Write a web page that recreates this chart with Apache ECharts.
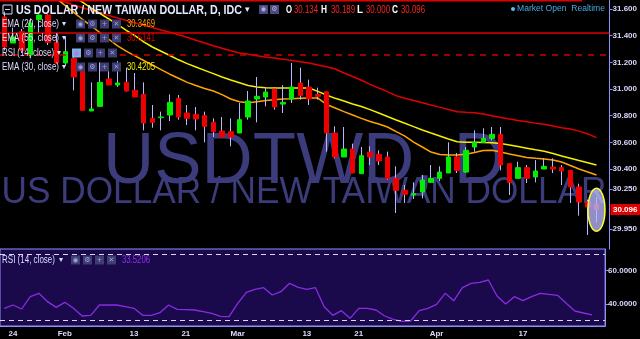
<!DOCTYPE html>
<html><head><meta charset="utf-8">
<script src="https://cdn.jsdelivr.net/npm/echarts/dist/echarts.min.js"></script>
<style>html,body{margin:0;padding:0;background:#000;overflow:hidden}#c{width:640px;height:339px}</style>
</head><body><div id="c"></div>
<script>
const dates = ['2017-01-23','2017-01-24','2017-01-25','2017-01-26','2017-01-27','2017-01-30','2017-01-31',
'2017-02-01','2017-02-02','2017-02-03','2017-02-06','2017-02-07','2017-02-08','2017-02-09','2017-02-10','2017-02-13','2017-02-14','2017-02-15','2017-02-16','2017-02-17','2017-02-20','2017-02-21','2017-02-22','2017-02-23','2017-02-24','2017-02-27','2017-02-28',
'2017-03-01','2017-03-02','2017-03-03','2017-03-06','2017-03-07','2017-03-08','2017-03-09','2017-03-10','2017-03-13','2017-03-14','2017-03-15','2017-03-16','2017-03-17','2017-03-20','2017-03-21','2017-03-22','2017-03-23','2017-03-24','2017-03-27','2017-03-28','2017-03-29','2017-03-30','2017-03-31',
'2017-04-03','2017-04-04','2017-04-05','2017-04-06','2017-04-07','2017-04-10','2017-04-11','2017-04-12','2017-04-13','2017-04-14','2017-04-17','2017-04-18','2017-04-19','2017-04-20','2017-04-21','2017-04-24','2017-04-25','2017-04-26','2017-04-27'];
const opens = [31.54,31.345,31.43,31.255,31.52,31.555,31.35,31.195,31.23,31.16,30.835,30.87,31.075,31.03,31.05,30.99,30.96,30.78,30.785,30.805,30.93,30.82,30.81,30.80,30.75,30.685,30.68,30.67,30.79,30.925,30.94,31.0,30.887,30.925,31.045,31.015,30.96,30.98,30.67,30.49,30.55,30.365,30.527,30.51,30.49,30.33,30.24,30.205,30.227,30.3,30.33,30.37,30.49,30.377,30.565,30.6,30.63,30.66,30.44,30.33,30.41,30.34,30.4,30.415,30.41,30.39,30.265,30.153,30.134];
const highs = [31.58,31.46,31.45,31.53,31.56,31.56,31.42,31.39,31.25,31.18,31.05,31.2,31.165,31.21,31.16,31.12,31.05,30.88,30.83,30.96,30.955,30.88,30.865,30.83,30.78,30.79,30.78,30.895,30.985,31.09,31.015,31.015,31.03,31.195,31.16,31.07,31.01,30.98,30.72,30.715,30.59,30.565,30.57,30.54,30.53,30.42,30.28,30.3,30.355,30.43,30.42,30.6,30.52,30.565,30.69,30.705,30.715,30.715,30.44,30.455,30.43,30.467,30.48,30.48,30.43,30.39,30.29,30.17,30.189];
const lows = [31.29,31.345,31.27,31.23,31.42,31.33,31.19,31.18,30.99,30.84,30.835,30.865,31.03,31.015,30.98,30.94,30.69,30.71,30.69,30.76,30.77,30.73,30.69,30.6,30.64,30.64,30.57,30.67,30.77,30.75,30.87,30.845,30.82,30.895,30.92,30.88,30.92,30.53,30.48,30.49,30.37,30.365,30.43,30.43,30.32,30.07,30.145,30.175,30.18,30.3,30.31,30.37,30.37,30.37,30.53,30.595,30.615,30.39,30.205,30.33,30.295,30.3,30.4,30.37,30.28,30.145,30.05,29.905,30.0];
const closes = [31.315,31.39,31.29,31.495,31.555,31.35,31.195,31.28,31.09,30.84,30.85,31.05,31.03,31.045,30.985,30.94,30.745,30.75,30.79,30.90,30.79,30.78,30.775,30.72,30.68,30.64,30.64,30.77,30.91,30.945,30.977,30.865,30.9,31.015,30.95,30.925,30.945,30.67,30.49,30.55,30.37,30.5,30.49,30.46,30.33,30.24,30.21,30.215,30.317,30.33,30.377,30.49,30.39,30.54,30.6,30.63,30.66,30.43,30.3,30.41,30.33,30.385,30.42,30.4,30.385,30.265,30.153,30.115,30.096];
const ema20 = [31.97,31.921,31.875,31.828,31.782,31.73,31.678,31.625,31.573,31.521,31.472,31.422,31.373,31.324,31.284,31.249,31.214,31.18,31.145,31.111,31.081,31.05,31.026,31.004,30.985,30.958,30.925,30.905,30.896,30.905,30.914,30.92,30.925,30.927,30.93,30.932,30.932,30.884,30.857,30.83,30.805,30.78,30.756,30.737,30.715,30.68,30.646,30.602,30.565,30.527,30.509,30.505,30.505,30.51,30.524,30.539,30.541,30.527,30.512,30.5,30.486,30.48,30.475,30.468,30.452,30.426,30.4,30.377,30.355];
const ema30 = [32.035,31.99,31.945,31.9,31.86,31.82,31.776,31.733,31.69,31.649,31.607,31.566,31.525,31.484,31.44,31.4,31.354,31.315,31.283,31.251,31.219,31.19,31.165,31.14,31.115,31.09,31.068,31.047,31.026,31.015,31.009,31.007,31.007,31.007,31.007,31.007,30.982,30.955,30.93,30.91,30.888,30.869,30.845,30.82,30.794,30.768,30.743,30.718,30.693,30.67,30.648,30.625,30.605,30.6,30.6,30.598,30.597,30.591,30.58,30.568,30.556,30.544,30.533,30.516,30.497,30.48,30.463,30.447,30.43];
const ema55 = [31.788,31.768,31.748,31.728,31.709,31.689,31.67,31.65,31.63,31.61,31.591,31.571,31.551,31.532,31.514,31.496,31.478,31.461,31.443,31.425,31.407,31.388,31.366,31.345,31.324,31.305,31.287,31.27,31.26,31.25,31.24,31.232,31.224,31.214,31.205,31.195,31.18,31.167,31.15,31.12,31.094,31.066,31.035,31.007,30.98,30.95,30.93,30.913,30.897,30.88,30.864,30.846,30.83,30.825,30.822,30.813,30.8,30.787,30.775,30.764,30.754,30.744,30.735,30.723,30.71,30.7,30.684,30.663,30.635];
const rsi = [37.4,39.4,37.0,44.4,46.4,41.4,38.0,41.0,37.4,32.8,33.2,39.4,39.4,39.4,38.4,37.4,33.2,33.2,34.8,39.4,36.8,36.6,36.4,35.4,34.4,32.6,32.4,40.4,47.0,48.8,49.8,45.4,47.4,52.4,50.0,48.8,49.8,38.4,33.2,36.0,31.4,37.4,37.4,36.4,32.8,30.8,29.6,29.8,36.0,37.4,39.8,46.4,42.0,49.8,52.4,53.0,54.4,44.8,40.0,44.4,42.0,44.4,46.4,45.8,45.2,40.4,35.8,34.6,33.5];
const tickDates = ['2017-01-24','2017-02-01','2017-02-13','2017-02-21','2017-03-01','2017-03-13','2017-03-21','2017-04-03','2017-04-17'];
const tickLabels = ['24','Feb','13','21','Mar','13','21','Apr','17'];
const priceTicks = [31.6,31.4,31.2,31.0,30.8,30.6,30.4,30.25,29.95];
const rsiTicks = [40,60];
const hLines = [31.42];
const hDashed = [31.26];
const rsiBands = [30,70];
const legendVals = {ema20:'30.3469', ema55:'30.6141', ema30:'30.4205', rsi:'33.5206'};
const ohlcText = {O:'30.134', H:'30.189', L:'30.000', C:'30.096'};

const SANS = '"Liberation Sans",Arial,sans-serif';
const SYM = '"DejaVu Sans",sans-serif';
const AX = '#8f8fff';
const cats = dates.concat(['2017-04-28']);
const bodies = opens.map((o,i)=>[o, closes[i], Math.min(o,closes[i]), Math.max(o,closes[i])]);
const wicks = opens.map((o,i)=>[o, closes[i], lows[i], highs[i]]);

const chart = echarts.init(document.getElementById('c'), null, {renderer:'canvas', width:640, height:339});
const mctx = document.createElement('canvas').getContext('2d');
function measure(t, size, weight, family){ mctx.font = (weight||'normal')+' '+size+'px '+family; return mctx.measureText(t).width; }
// text squeezed horizontally to a target width (the source screenshot uses a condensed face)
function ftxt(x,y,t,color,size,weight,targetW,opt){
  opt = opt||{};
  const fam = opt.family||SANS;
  const s = targetW ? targetW/measure(t,size,weight,fam) : 1;
  return {type:'text', z:opt.z!=null?opt.z:20, silent:true, x:x, y:y, scaleX:s,
    style:{text:t, x:0, y:0, fill:color, fontSize:size, fontWeight:weight||'normal', fontFamily:fam, align:opt.align||'left', verticalAlign:opt.va||'middle'}};
}
function btn(x,y,glyph,bg,fg){
  return [{type:'rect', z:20, silent:true, shape:{x:x, y:y-4.5, width:9, height:9}, style:{fill:bg||'#3d3d72'}},
          {type:'text', z:21, silent:true, style:{text:glyph, x:x+4.5, y:y, fill:fg||'#a0a0dc', fontSize:7, fontFamily:SYM, align:'center', verticalAlign:'middle'}}];
}
const g = [];
// watermark
g.push(ftxt(304,127,'USDTWD, D','#3c3c7c',72,'normal',402,{z:0, align:'center', va:'alphabetic'}));
g.push(ftxt(304,175,'US DOLLAR / NEW TAIWAN DOLLAR','#3c3c7c',36,'normal',605,{z:0, align:'center', va:'alphabetic'}));
// top red line
g.push({type:'rect', z:20, silent:true, shape:{x:0,y:0,width:582,height:1.5}, style:{fill:'#e00000'}});
// header
g.push({type:'rect', z:20, silent:true, shape:{x:3,y:5,width:9,height:9}, style:{fill:'none', stroke:'#d8d8ff', lineWidth:1}});
g.push({type:'line', z:20, silent:true, shape:{x1:5,y1:9.5,x2:10,y2:9.5}, style:{stroke:'#d8d8ff', lineWidth:1}});
g.push(ftxt(16,10,'US DOLLAR / NEW TAIWAN DOLLAR, D, IDC','#e8e8ff',13,'bold',226));
g.push(ftxt(245,10,'▾','#e8e8ff',9,'normal',0,{family:SYM}));
g.push(...btn(259,9.5,'◉','#4a4a80','#b0b0e0'), ...btn(270,9.5,'⚙','#4a4a80','#b0b0e0'));
const ohlcX = {O:[286,294], H:[321,331], L:[357,366], C:[392,401]};
for (const k of ['O','H','L','C']) {
  g.push(ftxt(ohlcX[k][0],10,k,'#ffffff',10,'bold',6));
  g.push(ftxt(ohlcX[k][1],10,ohlcText[k],'#ff2424',10,'normal',24));
}
g.push({type:'circle', z:20, silent:true, shape:{cx:513,cy:9,r:2}, style:{fill:'#4fc3f7'}});
g.push(ftxt(517,9,'Market Open  Realtime','#4aa8e0',9,'normal',88));
// legend rows
const rows = [
  {y:24, t:'EMA (20, close)', w:57, v:legendVals.ema20, c:'#ffa500', bx:76},
  {y:38, t:'EMA (55, close)', w:57, v:legendVals.ema55, c:'#e00000', bx:76},
  {y:53, t:'RSI (14, close)', w:52, v:null, c:null, bx:72},
  {y:67, t:'EMA (30, close)', w:57, v:legendVals.ema30, c:'#f0f000', bx:76}
];
rows.forEach((r,i)=>{
  g.push(ftxt(2,r.y,r.t,'#dcdcff',10,'normal',r.w));
  g.push(ftxt(r.w+5,r.y,'▾','#dcdcff',8,'normal',0,{family:SYM}));
  if (i===2) g.push(...btn(r.bx,r.y,'◎','#7ab4ee','#ff30c0'));
  else g.push(...btn(r.bx,r.y,'◉'));
  g.push(...btn(r.bx+12,r.y,'⚙'), ...btn(r.bx+24,r.y,'+'), ...btn(r.bx+36,r.y,'✕'));
  if (r.v) g.push(ftxt(127,r.y,r.v,r.c,10,'normal',28));
});
// RSI legend
g.push(ftxt(2,260,'RSI (14, close)','#dcdcff',10,'normal',53));
g.push(ftxt(59,260,'▾','#dcdcff',8,'normal',0,{family:SYM}));
g.push(...btn(71,260,'◉'), ...btn(83,260,'⚙'), ...btn(95,260,'+'), ...btn(107,260,'✕'));
g.push(ftxt(122,260,legendVals.rsi,'#9030f0',10,'normal',28));

const option = {
  animation:false,
  backgroundColor:'#000000',
  grid:[
    {left:-1.3, top:0, width:612.5, height:249, show:false},
    {left:-1.3, top:249, width:612.5, height:77, show:true, backgroundColor:'#1a0a4c', borderColor:AX, borderWidth:1}
  ],
  xAxis:[
    {type:'category', gridIndex:0, data:cats, boundaryGap:true, axisLine:{show:false}, axisTick:{show:false}, axisLabel:{show:false}, splitLine:{show:false}},
    {type:'category', gridIndex:1, data:cats, boundaryGap:true, axisLine:{show:true, lineStyle:{color:AX}}, axisTick:{show:false},
     axisLabel:{interval:(i,v)=>tickDates.indexOf(v)>=0, formatter:v=>{const j=tickDates.indexOf(v); return j>=0?tickLabels[j]:'';}, color:'#dcdcff', fontSize:8, fontWeight:'bold', fontFamily:SANS, margin:4},
     splitLine:{show:false}}
  ],
  yAxis:[
    {type:'value', gridIndex:0, position:'right', min:29.8, max:31.6675, scale:true,
     axisLine:{show:true, lineStyle:{color:AX}}, splitLine:{show:false},
     axisTick:{show:true, customValues:priceTicks, length:3, lineStyle:{color:AX}},
     axisLabel:{customValues:priceTicks, formatter:v=>v.toFixed(3), color:'#d8d8ff', fontSize:8, fontWeight:'bold', fontFamily:SANS, margin:3}},
    {type:'value', gridIndex:1, position:'right', min:26.8, max:73,
     axisLine:{show:true, lineStyle:{color:AX}}, splitLine:{show:false},
     axisTick:{show:true, customValues:rsiTicks, length:3, lineStyle:{color:AX}},
     axisLabel:{customValues:rsiTicks, formatter:v=>v.toFixed(4), color:'#d8d8ff', fontSize:8, fontWeight:'bold', fontFamily:SANS, margin:3}}
  ],
  series:[
    {name:'EMA55', type:'line', xAxisIndex:0, yAxisIndex:0, data:ema55, symbol:'none', z:2, lineStyle:{color:'#e00000', width:1.5},
     markLine:{silent:true, symbol:'none', label:{show:false},
       data: hLines.map(v=>({yAxis:v, lineStyle:{color:'#e00000', width:1.5, type:'solid'}})).concat(
             hDashed.map(v=>({yAxis:v, lineStyle:{color:'#d00000', width:1.5, type:[6,6]}})))}},
    {name:'EMA30', type:'line', xAxisIndex:0, yAxisIndex:0, data:ema30, symbol:'none', z:2, lineStyle:{color:'#f4f000', width:1.5}},
    {name:'EMA20', type:'line', xAxisIndex:0, yAxisIndex:0, data:ema20, symbol:'none', z:2, lineStyle:{color:'#ffa500', width:1.5}},
    {name:'wick', type:'candlestick', xAxisIndex:0, yAxisIndex:0, data:wicks, barWidth:0.5, z:3,
     itemStyle:{color:'#b8b8ff', color0:'#b8b8ff', borderColor:'#b8b8ff', borderColor0:'#b8b8ff', borderWidth:1}},
    {name:'body', type:'candlestick', xAxisIndex:0, yAxisIndex:0, data:bodies, barWidth:5, z:4,
     itemStyle:{color:'#00ee00', color0:'#ee0000', borderColor:'#00ee00', borderColor0:'#ee0000', borderWidth:1}},
    {name:'RSI', type:'line', xAxisIndex:1, yAxisIndex:1, data:rsi, symbol:'none', z:3, lineStyle:{color:'#8a2be2', width:1.3},
     markLine:{silent:true, symbol:'none', label:{show:false},
       data: rsiBands.map(v=>({yAxis:v, lineStyle:{color:'#d8d8f0', width:1, type:[5,4]}}))}}
  ],
  graphic:g
};
chart.setOption(option);

// price tag and highlight placed from data through the axes
const last = closes.length-1;
const py = chart.convertToPixel({yAxisIndex:0}, closes[last]);
const ctr = chart.convertToPixel({xAxisIndex:0, yAxisIndex:0}, [last, (highs[last]+lows[last])/2]);
const extra = [
  {type:'ellipse', z:30, silent:true, shape:{cx:ctr[0], cy:ctr[1], rx:8.5, ry:21.5}, style:{fill:'rgba(185,185,255,0.78)', stroke:'#ffff30', lineWidth:1.5}},
  {type:'rect', z:30, silent:true, shape:{x:610.5, y:py-5.5, width:30, height:11}, style:{fill:'#e00000'}},
  {type:'text', z:31, silent:true, style:{text:closes[last].toFixed(3), x:613, y:py, fill:'#ffffff', fontSize:8, fontWeight:'bold', fontFamily:SANS, align:'left', verticalAlign:'middle'}}
];
chart.setOption({graphic: g.concat(extra)});
</script></body></html>
